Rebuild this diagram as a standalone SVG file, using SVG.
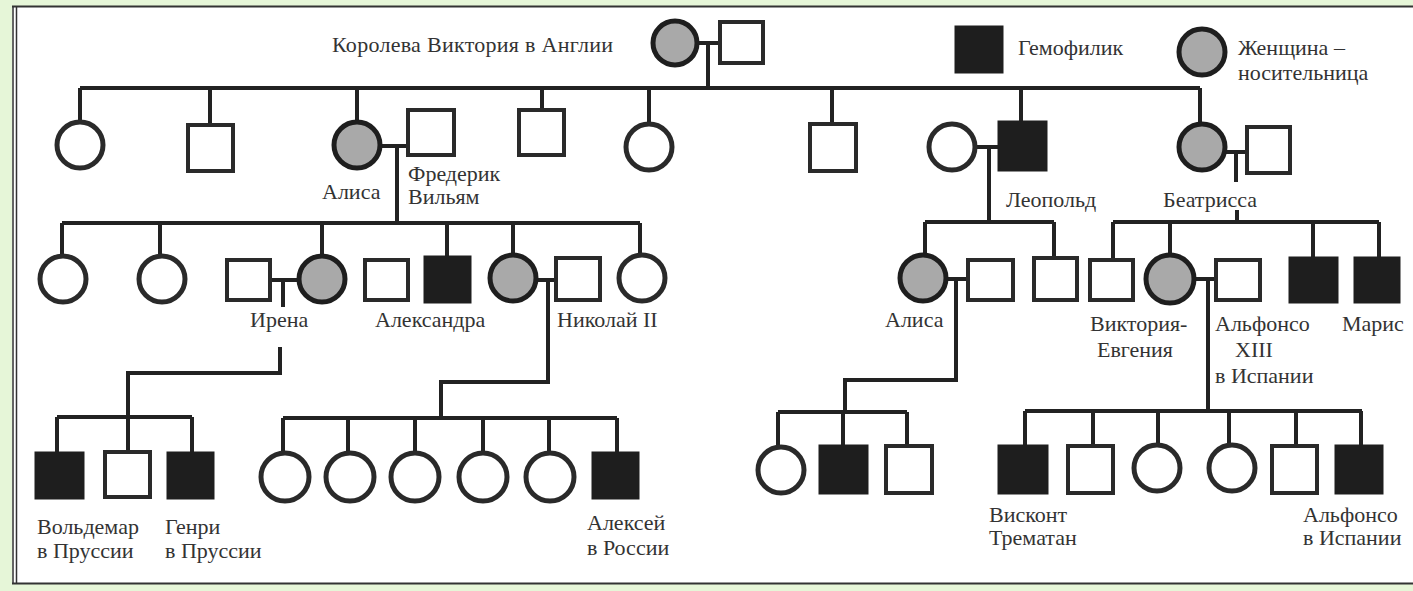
<svg xmlns="http://www.w3.org/2000/svg" width="1413" height="591" viewBox="0 0 1413 591">
<style>
.ln{fill:none;stroke:#222;stroke-width:4;stroke-linecap:butt;stroke-linejoin:miter}
.sq{fill:#fff;stroke:#2a2a2a;stroke-width:4}
.hq{fill:#1e1e1e;stroke:#1e1e1e;stroke-width:3}
.ci{fill:#fff;stroke:#2a2a2a;stroke-width:5}
.cc{fill:#a9a9a9;stroke:#1e1e1e;stroke-width:5}
text{font-family:"Liberation Serif","Times New Roman",serif;font-size:22px;fill:#333}
</style>
<rect x="0" y="0" width="1413" height="591" fill="#e6f6d8"/>
<rect x="12" y="6" width="1401" height="578" fill="#fff"/>
<path d="M13,6 V584 M16.5,6 V584" stroke="#333" stroke-width="1.5" fill="none"/>
<path d="M12,6.5 H1413 M12,583.5 H1413" stroke="#333" stroke-width="2" fill="none"/>

<g id="connectors">
<path class="ln" d="M697,43 H720 M708,43 V88 M80,88 H1200"/>
<path class="ln" d="M80,88 V122 M210,88 V125 M357,88 V122 M542,88 V110 M649,88 V124 M832,88 V124 M1021,88 V122 M1200,88 V124"/>
<path class="ln" d="M380,146 H408 M397,146 V223 M62,223 H640"/>
<path class="ln" d="M975,147 H999 M989,147 V222 M925,222 H1054"/>
<path class="ln" d="M1225,152 H1247 M1236,152 V182 M1237,210 V222 M1113,222 H1379"/>
<path class="ln" d="M62,223 V256 M160,223 V256 M322,223 V256 M447,223 V257 M513,223 V255 M640,223 V255"/>
<path class="ln" d="M270,280 H299 M283,280 V307 M280,347 V373 H128 V417 M57,417 H192 M57,417 V453 M128,417 V452 M192,417 V453"/>
<path class="ln" d="M536,280 H556 M548,280 V382 H441 V418 M283,418 H617 M283,418 V453 M348,418 V453 M415,418 V453 M483,418 V453 M549,418 V453 M617,418 V453"/>
<path class="ln" d="M925,222 V255 M1054,222 V258 M946,279 H968 M956,279 V380 H845 V412 M778,412 H907 M778,412 V447 M843,412 V446 M907,412 V446"/>
<path class="ln" d="M1113,222 V260 M1170,222 V255 M1313,222 V258 M1379,222 V258 M1194,279 H1216 M1208,279 V411 M1025,411 H1362 M1025,411 V446 M1093,411 V446 M1158,411 V445 M1229,411 V445 M1296,411 V446 M1361,411 V446"/>
</g>

<g id="legend">
<rect class="hq" x="956" y="27" width="46" height="45"/>
<text x="1018" y="55">Гемофилик</text>
<circle class="cc" cx="1202" cy="52" r="23"/>
<text x="1238" y="55">Женщина –</text>
<text x="1238" y="80">носительница</text>
</g>

<g id="victoria"><circle class="cc" cx="675" cy="43" r="22"/><text x="332" y="52" textLength="281">Королева Виктория в Англии</text></g>
<g id="victoria-husband"><rect class="sq" x="720" y="22" width="43" height="41"/></g>

<g id="g2-1"><circle class="ci" cx="80" cy="145" r="23"/></g>
<g id="g2-2"><rect class="sq" x="188" y="125" width="45" height="46"/></g>
<g id="alice"><circle class="cc" cx="357" cy="145" r="23"/><text x="322" y="199">Алиса</text></g>
<g id="frederick"><rect class="sq" x="408" y="110" width="46" height="45"/><text x="408" y="181">Фредерик</text><text x="408" y="204">Вильям</text></g>
<g id="g2-4"><rect class="sq" x="519" y="110" width="45" height="45"/></g>
<g id="g2-5"><circle class="ci" cx="649" cy="147" r="23"/></g>
<g id="g2-6"><rect class="sq" x="810" y="124" width="46" height="47"/></g>
<g id="leopold-wife"><circle class="ci" cx="952" cy="147" r="23"/></g>
<g id="leopold"><rect class="hq" x="999" y="122" width="47" height="48"/><text x="1006" y="207">Леопольд</text></g>
<g id="beatrice"><circle class="cc" cx="1202" cy="147" r="23"/><text x="1163" y="207">Беатрисса</text></g>
<g id="beatrice-husband"><rect class="sq" x="1247" y="127" width="43" height="46"/></g>

<g id="g3-1"><circle class="ci" cx="63" cy="279" r="23"/></g>
<g id="g3-2"><circle class="ci" cx="162" cy="279" r="23"/></g>
<g id="irena-husband"><rect class="sq" x="227" y="260" width="43" height="40"/></g>
<g id="irena"><circle class="cc" cx="322" cy="279" r="23"/><text x="250" y="327">Ирена</text></g>
<g id="g3-4"><rect class="sq" x="365" y="260" width="43" height="40"/></g>
<g id="g3-5"><rect class="hq" x="425" y="257" width="45" height="45"/></g>
<g id="alexandra"><circle class="cc" cx="513" cy="278" r="23"/><text x="375" y="327">Александра</text></g>
<g id="nicholas"><rect class="sq" x="556" y="258" width="44" height="42"/><text x="557" y="327">Николай II</text></g>
<g id="g3-7"><circle class="ci" cx="642" cy="278" r="23"/></g>

<g id="waldemar"><rect class="hq" x="36" y="453" width="47" height="45"/><text x="37" y="534">Вольдемар</text><text x="37" y="558">в Пруссии</text></g>
<g id="g4-2"><rect class="sq" x="105" y="452" width="45" height="45"/></g>
<g id="henry"><rect class="hq" x="168" y="453" width="45" height="45"/><text x="165" y="534">Генри</text><text x="165" y="558">в Пруссии</text></g>

<g id="olga"><circle class="ci" cx="285" cy="477" r="24"/></g>
<g id="tatiana"><circle class="ci" cx="350" cy="477" r="24"/></g>
<g id="maria"><circle class="ci" cx="415" cy="477" r="24"/></g>
<g id="anastasia"><circle class="ci" cx="483" cy="477" r="24"/></g>
<g id="g4-9"><circle class="ci" cx="550" cy="477" r="24"/></g>
<g id="alexei"><rect class="hq" x="593" y="453" width="45" height="45"/><text x="587" y="530">Алексей</text><text x="587" y="555">в России</text></g>

<g id="alice2"><circle class="cc" cx="923" cy="278" r="23"/><text x="885" y="327">Алиса</text></g>
<g id="alice2-husband"><rect class="sq" x="968" y="260" width="45" height="40"/></g>
<g id="g3-l2"><rect class="sq" x="1034" y="258" width="43" height="42"/></g>

<g id="g4-l1"><circle class="ci" cx="781" cy="470" r="23"/></g>
<g id="g4-l2"><rect class="hq" x="820" y="446" width="47" height="47"/></g>
<g id="g4-l3"><rect class="sq" x="886" y="446" width="46" height="47"/></g>

<g id="g3-b1"><rect class="sq" x="1090" y="260" width="43" height="40"/></g>
<g id="victoria-eugenie"><circle class="cc" cx="1170" cy="279" r="24"/><text x="1090" y="331">Виктория-</text><text x="1097" y="357">Евгения</text></g>
<g id="alfonso13"><rect class="sq" x="1216" y="260" width="44" height="40"/><text x="1215" y="331">Альфонсо</text><text x="1235" y="357">XIII</text><text x="1215" y="383">в Испании</text></g>
<g id="g3-b4"><rect class="hq" x="1290" y="258" width="47" height="44"/></g>
<g id="maurice"><rect class="hq" x="1355" y="258" width="44" height="44"/><text x="1342" y="331">Марис</text></g>

<g id="viscount"><rect class="hq" x="999" y="446" width="48" height="47"/><text x="989" y="522">Висконт</text><text x="989" y="545">Трематан</text></g>
<g id="g4-s2"><rect class="sq" x="1068" y="446" width="45" height="47"/></g>
<g id="g4-s3"><circle class="ci" cx="1157" cy="468" r="23"/></g>
<g id="g4-s4"><circle class="ci" cx="1232" cy="468" r="23"/></g>
<g id="g4-s5"><rect class="sq" x="1272" y="446" width="45" height="47"/></g>
<g id="alfonso"><rect class="hq" x="1336" y="446" width="46" height="47"/><text x="1303" y="522">Альфонсо</text><text x="1303" y="545">в Испании</text></g>
</svg>
